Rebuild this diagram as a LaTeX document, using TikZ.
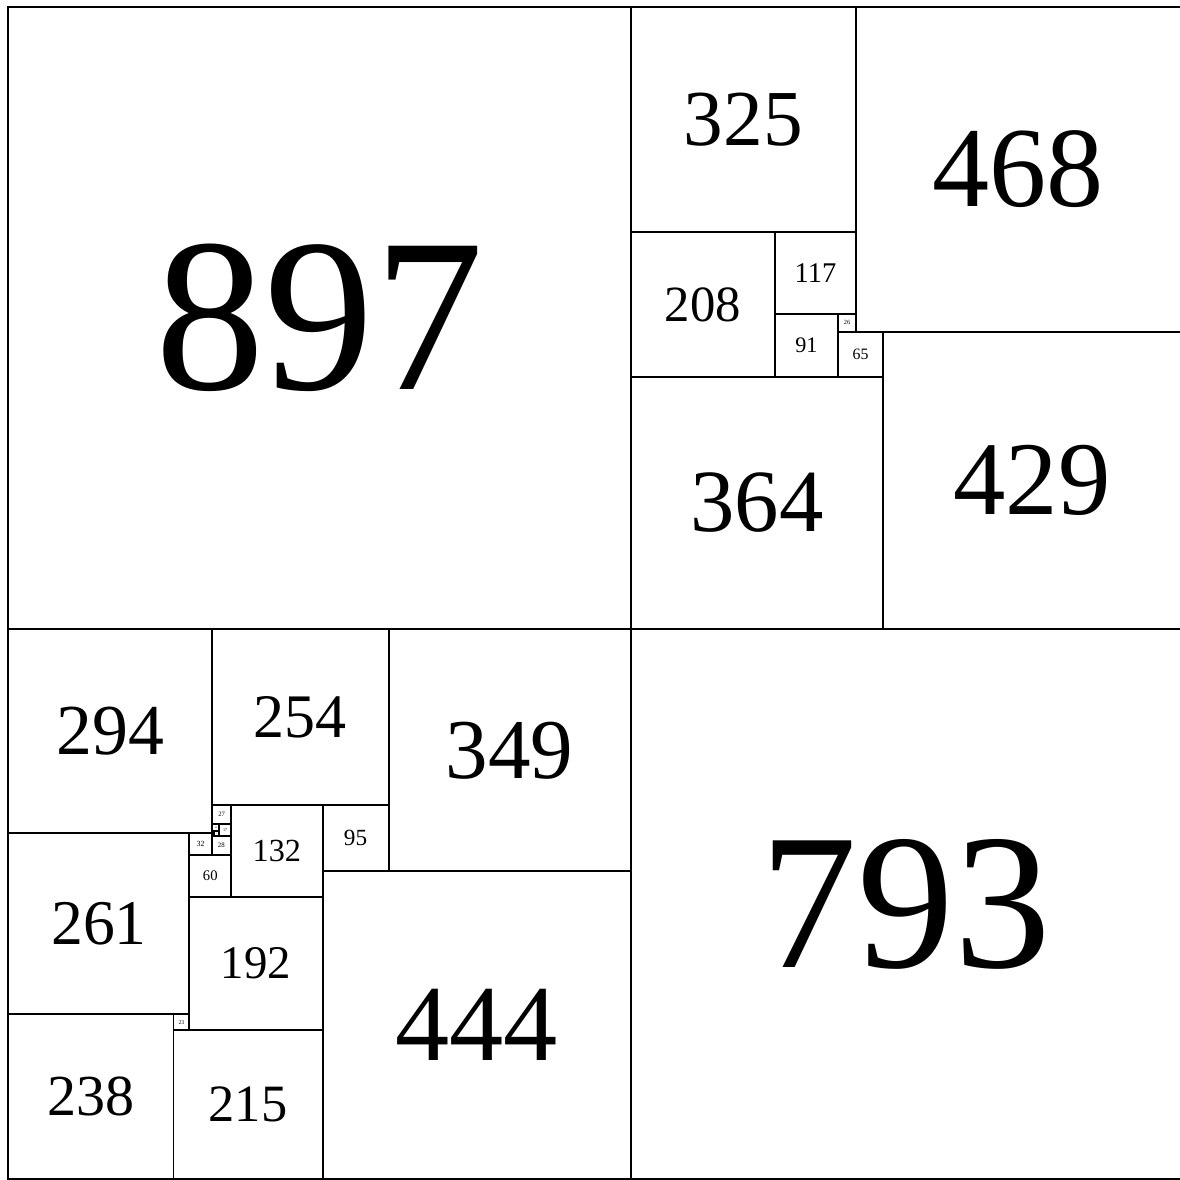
\documentclass[tikz,border=0pt]{standalone}
\usepackage{fontspec}
\setmainfont{Liberation Serif}
\usepackage{tikz}

\begin{document}
\begin{tikzpicture}[
  x=0.01cm, y=-0.01cm,
  sq/.style={rectangle, draw=black, line width=0.8pt, inner sep=0pt, outer sep=0pt, anchor=north west}
]
\useasboundingbox (-12.1,-10.1) rectangle (1689.0,1691.0);
% x/y of the top left corner, then the side
\foreach \x/\y/\s in {0/0/897, 897/0/325, 1222/0/468, 897/325/208, 1105/325/117,
  1105/442/91, 1196/442/26, 1196/468/65, 1261/468/429, 897/533/364, 897/897/793,
  0/897/294, 294/897/254, 548/897/349, 453/1151/95, 321/1151/132, 294/1151/27,
  453/1246/444, 0/1191/261, 261/1191/32, 293/1195/28, 304/1178/17, 294/1178/10,
  294/1188/3, 297/1188/7, 293/1191/4, 261/1223/60, 261/1283/192, 238/1452/23,
  238/1475/215, 0/1452/238}{
  \pgfmathsetmacro\fs{max(0.1*\s,0.5)}
  \node[sq, minimum size=\s*0.01cm, font=\fontsize{\fs pt}{\fs pt}\selectfont] (sq\s) at (\x,\y) {\s};
}
\end{tikzpicture}
\end{document}
